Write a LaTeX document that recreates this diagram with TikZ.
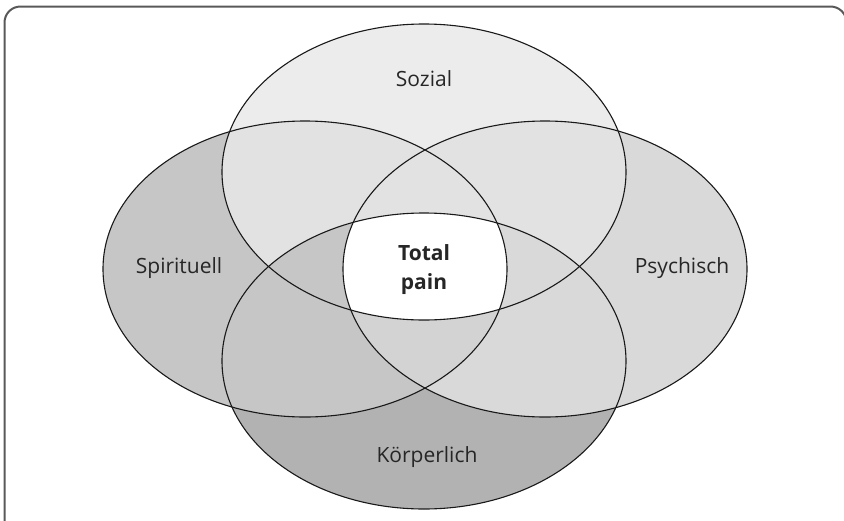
\documentclass[tikz,border=0pt]{standalone}
\usepackage{fontspec}
\setmainfont{Open Sans}
\begin{document}
\begin{tikzpicture}[x=1pt,y=-1pt]
\def\rx{202}
\def\ry{148}
\definecolor{cSoz}{HTML}{EBECEB}
\definecolor{cSpi}{HTML}{C6C6C6}
\definecolor{cPsy}{HTML}{D9D9D9}
\definecolor{cKoe}{HTML}{B1B2B1}
\definecolor{cMix}{HTML}{E2E2E2}
\definecolor{cLow}{HTML}{D2D3D2}
\tikzset{ring/.style={draw=black!90,line width=1.1pt},
         lbl/.style={font=\fontsize{21}{29}\selectfont,text=black!85}}

\useasboundingbox (0,0) rectangle (844,520);

% frame, open at the bottom
\draw[line width=2pt,black!65,rounded corners=16pt] (4.5,540) -- (4.5,6.5) -- (846.5,6.5) -- (846.5,540);

% centres of the four ovals
\coordinate (soz) at (424,172);
\coordinate (koe) at (424,361);
\coordinate (spi) at (305,269);
\coordinate (psy) at (545,269);

% base fills
\fill[cSoz] (soz) ellipse [x radius=\rx, y radius=\ry];
\fill[cKoe] (koe) ellipse [x radius=\rx, y radius=\ry];
\fill[cSpi] (spi) ellipse [x radius=\rx, y radius=\ry];
\fill[cPsy] (psy) ellipse [x radius=\rx, y radius=\ry];

% overlaps with the upper oval
\begin{scope}
  \clip (soz) ellipse [x radius=\rx, y radius=\ry];
  \fill[cMix] (spi) ellipse [x radius=\rx, y radius=\ry];
  \fill[cMix] (psy) ellipse [x radius=\rx, y radius=\ry];
\end{scope}

% overlaps with the lower oval
\begin{scope}
  \clip (koe) ellipse [x radius=\rx, y radius=\ry];
  \fill[cSpi] (spi) ellipse [x radius=\rx, y radius=\ry];
  \fill[cPsy] (psy) ellipse [x radius=\rx, y radius=\ry];
\end{scope}
\begin{scope}
  \clip (spi) ellipse [x radius=\rx, y radius=\ry];
  \clip (psy) ellipse [x radius=\rx, y radius=\ry];
  \fill[cLow] (koe) ellipse [x radius=\rx, y radius=\ry];
\end{scope}

% the common core
\begin{scope}
  \clip (spi) ellipse [x radius=\rx, y radius=\ry];
  \clip (psy) ellipse [x radius=\rx, y radius=\ry];
  \clip (soz) ellipse [x radius=\rx, y radius=\ry];
  \fill[white] (koe) ellipse [x radius=\rx, y radius=\ry];
\end{scope}

% outlines
\foreach \c in {soz,koe,spi,psy}
    \draw[ring] (\c) ellipse [x radius=\rx, y radius=\ry];

% labels
\node[lbl] (sozial) at (424,79) {Sozial};
\node[lbl] (spirituell) at (179,268) {Spirituell};
\node[lbl] (psychisch) at (682,268) {Psychisch};
\node[lbl] (koerper) at (427,457) {Körperlich};
\node[lbl,font=\fontsize{21}{29}\selectfont\bfseries,align=center] (total) at (424,270) {Total\\pain};
\end{tikzpicture}
\end{document}
